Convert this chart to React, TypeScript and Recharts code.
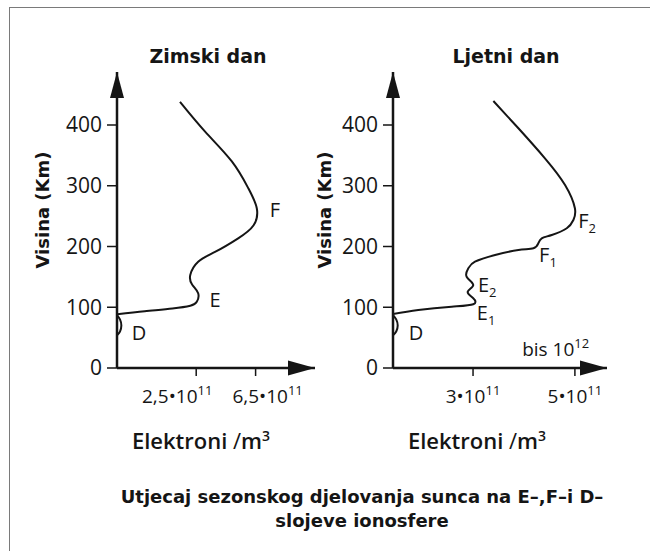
import { LineChart, Line, XAxis, YAxis, ReferenceDot } from 'recharts'

// y: visina (km), x: položaj na shematskoj osi elektrona (0–10)
const yTicks = [0, 100, 200, 300, 400]

// Zimski dan
const winterX = [0, 1.4, 2.8, 3.7, 4.03, 4.1, 3.8, 3.7, 4.1, 4.95, 6.1, 6.9, 7.06, 6.63, 5.8, 4.45, 3.18]
const winterY = [88.5, 93.5, 98, 102.5, 109, 123, 137, 153, 175, 191, 213, 235, 263, 296, 340, 389, 438]
const winterXTicks = [4.0, 7.0]
const winterXLabels = ['2,5•10', '6,5•10']
const winterLayerNames = ['D', 'E', 'F']
const winterLayerX = [1.11, 4.95, 7.98]
const winterLayerY = [57.6, 112, 260]

// Ljetni dan
const summerX = [0, 1.18, 2.74, 3.75, 3.75, 3.49, 3.75, 3.44, 3.52, 3.83, 4.77, 5.86, 6.56, 6.79, 6.95, 7.42, 8.12, 8.43, 8.5, 8.04, 7.1, 5.86, 4.69]
const summerY = [88.9, 95.5, 100.9, 104.9, 114.7, 125.6, 136.6, 150.3, 164.1, 175, 186, 194.2, 197, 205.3, 213.5, 218.9, 230, 243.6, 262.9, 301.2, 345.2, 394.6, 439.5]
const summerXTicks = [3.74, 8.5]
const summerXLabels = ['3•10', '5•10']
const summerLayerNames = ['D', 'E', 'E', 'F', 'F']
const summerLayerSubs = ['', '1', '2', '1', '2']
const summerLayerX = [1.07, 4.35, 4.4, 7.24, 9.07]
const summerLayerY = [57.6, 91, 137, 186, 242]

// D sloj (mala izbočina uz os)
const dLoopX = [0, 0.15, 0.22, 0.15, 0]
const dLoopY = [54, 60, 70, 80, 87]

const FONT = "'Open Sans', 'DejaVu Sans', sans-serif"
const BOLD_FONT = "'DejaVu Sans', sans-serif"
const INK = '#151515'

const toPoints = (xs: number[], ys: number[]) => xs.map((x, i) => ({ x, y: ys[i] }))

function UpArrow(props: any) {
  const { cx, cy } = props
  return <path d={`M${cx},${cy} L${cx - 7},${cy + 26} L${cx + 7},${cy + 26} Z`} fill={INK} />
}

function RightArrow(props: any) {
  const { cx, cy } = props
  return <path d={`M${cx},${cy} L${cx - 27},${cy - 7.5} L${cx - 27},${cy + 7.5} Z`} fill={INK} />
}

interface PanelProps {
  left: number
  axisX: number
  tipX: number
  title: string
  titleX: number
  xLabelX: number
  yLabelX: number
  curve: { x: number; y: number }[]
  xTicks: number[]
  xLabels: string[]
  tickNudge: number[]
  layerNames: string[]
  layerSubs: string[]
  layerX: number[]
  layerY: number[]
  note?: boolean
}

const W = 325
const H = 460
const AXIS_Y = 368
const TOP = 72
const Y_AXIS_W = 60
const X_AXIS_H = 50
const Y_MAX = (AXIS_Y - TOP) / 0.6075

function Panel(p: PanelProps) {
  const XTick = (t: any) => {
    const i = p.xTicks.indexOf(t.payload.value)
    return (
      <text x={t.x + (p.tickNudge[i] ?? 0)} y={AXIS_Y + 35} textAnchor="middle" fontFamily={FONT} fontSize={19} fill={INK}>
        <tspan>{p.xLabels[i]}</tspan>
        <tspan dy={-8} fontSize={13}>11</tspan>
      </text>
    )
  }
  const LayerLabel = (idx: number) => (props: any) => (
    <text x={props.cx} y={props.cy} dy={7} textAnchor="middle" fontFamily={FONT} fontSize={20} fill={INK}>
      <tspan>{p.layerNames[idx]}</tspan>
      {p.layerSubs[idx] ? <tspan dy={5} fontSize={13}>{p.layerSubs[idx]}</tspan> : null}
    </text>
  )
  return (
    <>
      <div style={{ position: 'absolute', left: p.left, top: 0 }}>
        <LineChart
          width={W}
          height={H}
          margin={{ top: TOP, left: p.axisX - Y_AXIS_W, right: W - p.tipX, bottom: H - AXIS_Y - X_AXIS_H }}
        >
          <XAxis
            type="number"
            dataKey="x"
            domain={[0, 10]}
            ticks={p.xTicks}
            height={X_AXIS_H}
            tickSize={8}
            tick={XTick}
            axisLine={{ stroke: INK, strokeWidth: 2.5 }}
            tickLine={{ stroke: INK, strokeWidth: 1.5 }}
            allowDataOverflow
          />
          <YAxis
            type="number"
            dataKey="y"
            domain={[0, Y_MAX]}
            ticks={yTicks}
            width={Y_AXIS_W}
            tickSize={10}
            tickMargin={5}
            tick={{ fill: INK, fontSize: 21, fontFamily: FONT }}
            axisLine={{ stroke: INK, strokeWidth: 2.5 }}
            tickLine={{ stroke: INK, strokeWidth: 1.5 }}
            allowDataOverflow
          />
          <Line data={toPoints(dLoopX, dLoopY)} dataKey="y" type="monotoneY" stroke={INK} strokeWidth={2} dot={false} isAnimationActive={false} />
          <Line data={p.curve} dataKey="y" type="natural" stroke={INK} strokeWidth={2} dot={false} isAnimationActive={false} />
          <ReferenceDot x={0} y={Y_MAX} r={0} shape={UpArrow} ifOverflow="visible" />
          <ReferenceDot x={10} y={0} r={0} shape={RightArrow} ifOverflow="visible" />
          {p.layerNames.map((n, i) => (
            <ReferenceDot key={n + i} x={p.layerX[i]} y={p.layerY[i]} r={0} shape={LayerLabel(i)} ifOverflow="visible" />
          ))}
          {p.note ? (
            <ReferenceDot
              x={7.6}
              y={20}
              r={0}
              ifOverflow="visible"
              shape={(d: any) => (
                <text x={d.cx} y={d.cy} textAnchor="middle" fontFamily={FONT} fontSize={19} fill={INK}>
                  <tspan>bis 10</tspan>
                  <tspan dy={-8} fontSize={13}>12</tspan>
                </text>
              )}
            />
          ) : null}
        </LineChart>
      </div>
      <div
        style={{
          position: 'absolute', left: p.titleX - 100, width: 200, top: 42, textAlign: 'center',
          fontFamily: BOLD_FONT, fontWeight: 700, fontSize: 19, color: INK, lineHeight: '28px',
        }}
      >
        {p.title}
      </div>
      <div
        style={{
          position: 'absolute', left: p.xLabelX - 100, width: 200, top: 421, textAlign: 'center',
          fontFamily: FONT, fontWeight: 600, fontSize: 22, color: INK, lineHeight: '30px',
        }}
      >
        Elektroni <span style={{ fontWeight: 400 }}>/</span>m<sup style={{ fontSize: 14, verticalAlign: 8 }}>3</sup>
      </div>
      <div
        style={{
          position: 'absolute', left: p.yLabelX - 100, width: 200, top: 210 - 15, textAlign: 'center',
          fontFamily: BOLD_FONT, fontWeight: 700, fontSize: 18, color: INK, lineHeight: '30px',
          transform: 'rotate(-90deg)',
        }}
      >
        Visina (Km)
      </div>
    </>
  )
}

export default function App() {
  return (
    <div style={{ position: 'absolute', left: 0, top: 0, width: 650, height: 551, overflow: 'hidden', background: '#fff' }}>
      <div style={{ position: 'absolute', left: 9, top: 7, width: 660, height: 600, borderTop: '1.5px solid #7a7a7a', borderLeft: '1.5px solid #7a7a7a' }} />
      <Panel
        left={0}
        axisX={117}
        tipX={315}
        title="Zimski dan"
        titleX={208}
        xLabelX={201}
        yLabelX={43}
        curve={toPoints(winterX, winterY)}
        xTicks={winterXTicks}
        xLabels={winterXLabels}
        tickNudge={[-19, 12]}
        layerNames={winterLayerNames}
        layerSubs={['', '', '']}
        layerX={winterLayerX}
        layerY={winterLayerY}
      />
      <Panel
        left={325}
        axisX={68}
        tipX={282}
        title="Ljetni dan"
        titleX={506}
        xLabelX={477}
        yLabelX={325}
        curve={toPoints(summerX, summerY)}
        xTicks={summerXTicks}
        xLabels={summerXLabels}
        tickNudge={[0, 0]}
        layerNames={summerLayerNames}
        layerSubs={summerLayerSubs}
        layerX={summerLayerX}
        layerY={summerLayerY}
        note
      />
      <div
        style={{
          position: 'absolute', left: 62, width: 600, top: 485, textAlign: 'center',
          fontFamily: BOLD_FONT, fontWeight: 700, fontSize: 18, color: INK, lineHeight: '24px',
        }}
      >
        Utjecaj sezonskog djelovanja sunca na E–,F–i D–<br />slojeve ionosfere
      </div>
    </div>
  )
}
